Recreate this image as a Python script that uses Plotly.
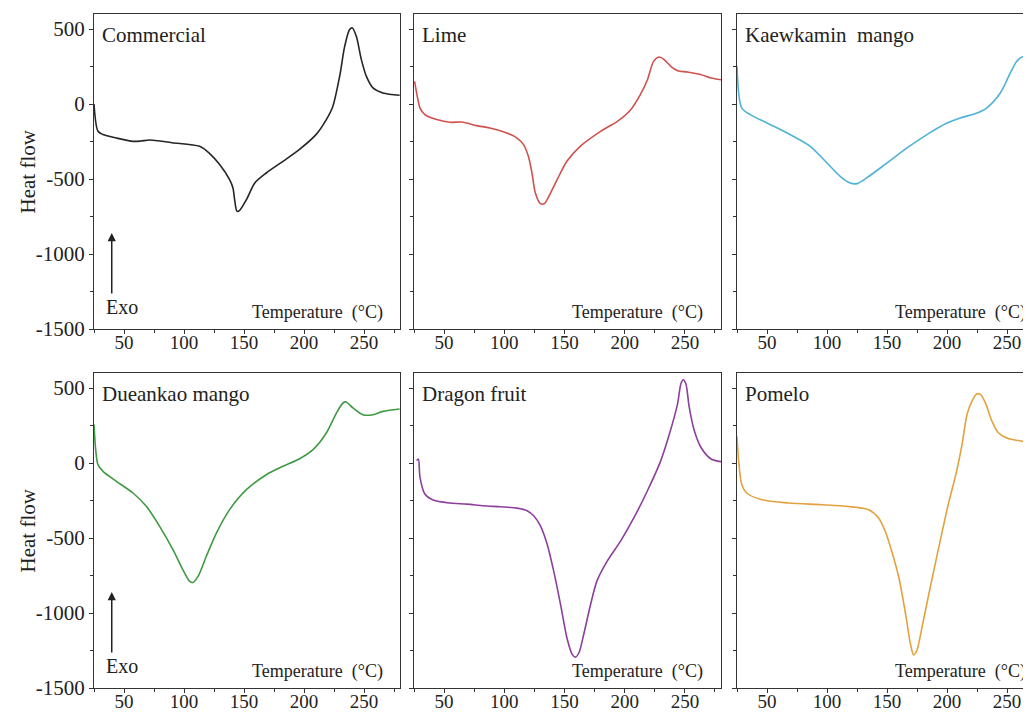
import plotly.graph_objects as go

# ---------------- data ----------------
panel_names = ["Commercial", "Lime", "Kaewkamin  mango",
               "Dueankao mango", "Dragon fruit", "Pomelo"]

commercial_t = [25, 28.3, 32.5, 43.6, 57.5, 64, 71.4, 90, 113, 121, 129.7, 138, 140.8, 142.2, 144.2,
                146.4, 152, 159, 168.6, 182.5, 196, 210, 218.6, 224, 229.7, 233.9, 238, 240.3,
                243.6, 247.8, 252, 257.5, 265.8, 279.7]
commercial_v = [0, -182, -204, -227, -249, -247, -240, -258, -282, -327, -404, -504, -560, -638, -716,
                -709, -638, -527, -460, -382, -304, -204, -104, -16, 184, 384, 496, 507,
                451, 296, 184, 107, 73, 58]

lime_t = [25.5, 27.2, 30, 34, 43.9, 55, 64.7, 77, 88, 102, 110.6, 116, 120, 123, 125.8, 130, 133.3,
          137, 143.9, 152, 163, 180, 193.9, 205, 213, 218.9, 224, 228.6, 232.8, 238.3, 243.9,
          252, 263, 271.7, 280]
lime_v = [151, 73, -27, -71, -104, -122, -120, -144, -160, -193, -227, -271, -349, -460, -593, -664, -664,
          -616, -504, -382, -282, -182, -116, -38, 62, 162, 284, 313, 296, 251, 222,
          213, 196, 173, 162]

kaew_t = [25, 26.4, 29, 36, 50, 66.7, 86, 100, 111, 119.4, 125, 133, 150, 166.7, 183.3, 200, 211,
          225, 233, 244.4, 252.8, 258, 262.5, 266.7, 270.3]
kaew_v = [251, 73, -27, -71, -127, -193, -282, -393, -482, -527, -531, -493, -393, -293, -204, -127, -93,
          -60, -27, 73, 207, 284, 313, 307, 284]

duean_t = [25, 26.4, 28.3, 32.5, 43.6, 57.5, 68.6, 79.7, 90.8, 99, 104.7, 107.5, 111.7, 118.6, 127, 138,
           152, 168.6, 182.5, 196, 207.5, 218.6, 227, 232.5, 235, 240.8, 249, 257.5, 265.8, 279.7]
duean_v = [256, 89, -11, -56, -122, -200, -289, -422, -578, -711, -789, -796, -756, -622, -467, -311,
           -178, -78, -22, 27, 89, 200, 333, 400, 407, 367, 322, 322, 344, 360]

dragon_t = [27.2, 28.6, 30, 34, 41, 55, 68.9, 82.8, 96.7, 110.6, 118.9, 124.4, 130, 135.6, 141, 146.7,
            152, 156.4, 159, 162, 166, 171.7, 177, 185.6, 196.7, 207.8, 218.9, 230, 238, 243.9,
            246.7, 248.6, 250.8, 253.6, 257.8, 263.3, 271.7, 280]
dragon_v = [16, 27, -96, -207, -247, -267, -274, -285, -292, -301, -318, -352, -419, -541, -719, -942,
            -1165, -1276, -1294, -1265, -1142, -942, -786, -653, -519, -363, -185, 16, 216, 394,
            528, 555, 528, 372, 216, 105, 27, 9]

pomelo_t = [25, 26.4, 29, 33, 45.8, 68, 95.8, 118, 134.7, 143, 148.6, 154, 160, 165.6, 169.7, 172.2,
            175, 179, 184.7, 193, 201, 208, 212.5, 216.7, 220.8, 225, 227.8, 232, 237.5, 243,
            251, 262.5, 271.6]
pomelo_v = [178, 11, -145, -200, -245, -267, -278, -290, -312, -367, -457, -590, -768, -1013, -1213, -1280,
            -1247, -1102, -880, -568, -278, -56, 122, 323, 412, 461, 457, 401, 278, 200,
            163, 145, 122]

series_t = [commercial_t, lime_t, kaew_t, duean_t, dragon_t, pomelo_t]
series_v = [commercial_v, lime_v, kaew_v, duean_v, dragon_v, pomelo_v]
line_colors = ["#262626", "#d0524e", "#4fb2d6", "#3f9a42", "#8d3f9c", "#e3a23e"]

y_tick_vals = [500, 0, -500, -1000, -1500]
y_tick_text = ["500", "0", "-500", "-1000", "-1500"]
x_tick_vals = [50, 100, 150, 200, 250]

# ---------------- layout geometry ----------------
# page body has an 8px margin, so the figure sits at (8, 8) inside the 1031x713 window
PAGE_W, PAGE_H, OFF = 1031, 713, 8
W, H = PAGE_W - OFF, PAGE_H - OFF
col_px = [(94, 400), (414, 721), (737, 1031)]   # page pixels
row_px = [(14, 329), (373, 688)]                # page pixels, top -> bottom
x_ranges = [[25, 280], [25, 280], [25, 270]]

FONT = "Liberation Serif, Times New Roman, serif"
AX = "#333333"

fig = go.Figure()
annotations = []

for i in range(6):
    r, c = divmod(i, 3)
    n = i + 1
    xa = "x" if n == 1 else f"x{n}"
    ya = "y" if n == 1 else f"y{n}"
    fig.add_trace(go.Scatter(x=series_t[i], y=series_v[i], mode="lines",
                             line=dict(color=line_colors[i], width=1.6, shape="spline", smoothing=0.8),
                             xaxis=xa, yaxis=ya, showlegend=False, hoverinfo="skip"))
    x0, x1 = col_px[c]
    t0, t1 = row_px[r]
    xkey = "xaxis" if n == 1 else f"xaxis{n}"
    ykey = "yaxis" if n == 1 else f"yaxis{n}"
    fig.layout[xkey] = dict(
        domain=[(x0 - OFF) / W, min(1.0, (x1 - OFF) / W)], range=x_ranges[c], anchor=ya,
        showline=True, linecolor=AX, linewidth=1, mirror=True,
        ticks="outside", ticklen=4, tickwidth=1, tickcolor=AX,
        tickvals=x_tick_vals, showgrid=False, zeroline=False,
        minor=dict(dtick=25, tick0=25, ticks="outside", ticklen=3, tickcolor=AX, showgrid=False),
        tickfont=dict(family=FONT, size=19, color="#222"),
        ticklabelstandoff=-8,
    )
    fig.layout[ykey] = dict(
        domain=[(PAGE_H - t1) / H, (PAGE_H - t0) / H], range=[-1500, 600], anchor=xa,
        showline=True, linecolor=AX, linewidth=1, mirror=(c != 2),
        ticks="outside", ticklen=4, tickwidth=1, tickcolor=AX,
        tickvals=y_tick_vals, ticktext=y_tick_text,
        showticklabels=(c == 0), showgrid=False, zeroline=False,
        minor=dict(dtick=250, tick0=0, ticks="outside", ticklen=3, tickcolor=AX, showgrid=False),
        tickfont=dict(family=FONT, size=21, color="#222"),
    )

    # panel name
    annotations.append(dict(text=panel_names[i], xref=f"{xa} domain", yref=f"{ya} domain",
                            x=0, y=1, xanchor="left", yanchor="top", xshift=6, yshift=-7,
                            showarrow=False, font=dict(family=FONT, size=21, color="#222")))
    # Temperature label inside panel
    annotations.append(dict(text="Temperature\u00a0\u00a0(°C)", xref=f"{xa} domain", yref=f"{ya} domain",
                            x=0, y=0, xanchor="left", yanchor="bottom", xshift=156, yshift=4,
                            showarrow=False, font=dict(family=FONT, size=18, color="#222")))
    if c == 0:
        annotations.append(dict(text="Heat flow", xref="paper", yref=f"{ya} domain",
                                x=(27 - OFF) / W, y=0.5, xanchor="center", yanchor="middle",
                                textangle=-90, showarrow=False,
                                font=dict(family=FONT, size=21, color="#222")))
        annotations.append(dict(text="Exo", xref=f"{xa} domain", yref=f"{ya} domain",
                                x=0, y=0, xanchor="left", yanchor="bottom", xshift=10, yshift=9,
                                showarrow=False, font=dict(family=FONT, size=20, color="#222")))
        annotations.append(dict(text="", xref=f"{xa} domain", yref=f"{ya} domain",
                                x=0.058, y=0.305, showarrow=True, ax=0, ay=62,
                                arrowhead=2, arrowsize=1.1, arrowwidth=1.5, arrowcolor="#222"))

fig.update_layout(
    width=W, height=H, margin=dict(l=0, r=0, t=0, b=0, autoexpand=False),
    paper_bgcolor="white", plot_bgcolor="white",
    annotations=annotations, showlegend=False,
)

fig.write_html("out.html")
